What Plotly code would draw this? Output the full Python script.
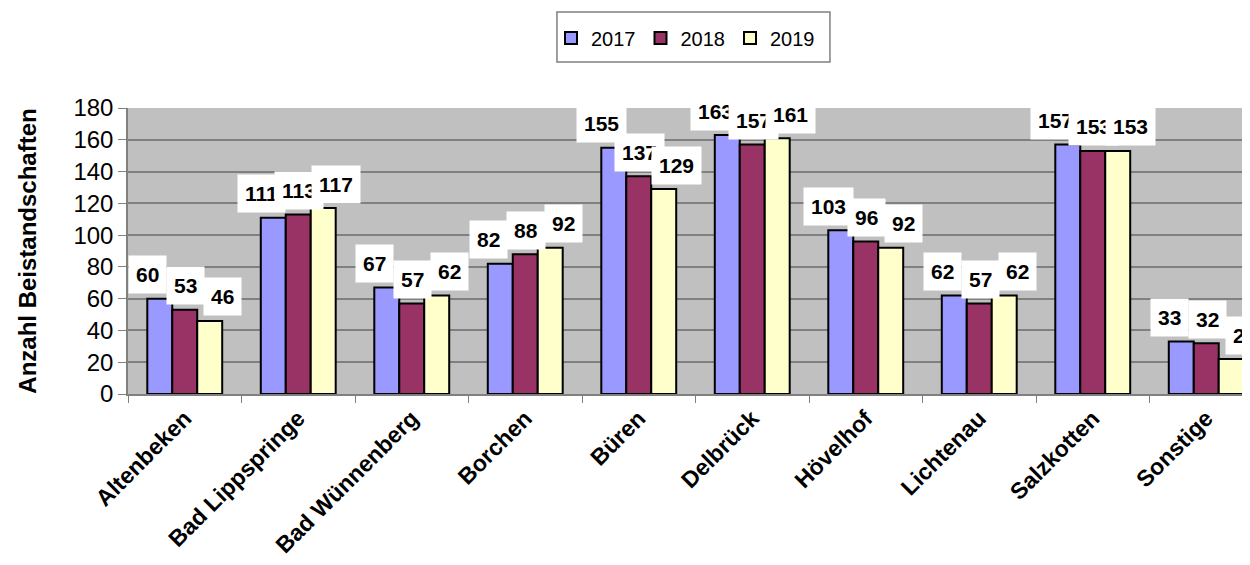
import plotly.graph_objects as go

categories = ["Altenbeken", "Bad Lippspringe", "Bad Wünnenberg", "Borchen", "Büren",
              "Delbrück", "Hövelhof", "Lichtenau", "Salzkotten", "Sonstige"]
series_names = ["2017", "2018", "2019"]
values_2017 = [60, 111, 67, 82, 155, 163, 103, 62, 157, 33]
values_2018 = [53, 113, 57, 88, 137, 157, 96, 57, 153, 32]
values_2019 = [46, 117, 62, 92, 129, 161, 92, 62, 153, 22]
y_ticks = [0, 20, 40, 60, 80, 100, 120, 140, 160, 180]

all_values = [values_2017, values_2018, values_2019]
colors = ["#9999FF", "#993366", "#FFFFCC"]
label_xshift = [-37, 1, 38]
label_yshift = 24

FONT = "Liberation Sans, Arial, sans-serif"

fig = go.Figure()
for name, vals, col in zip(series_names, all_values, colors):
    fig.add_trace(go.Bar(
        x=categories, y=vals, name=name,
        marker=dict(color=col, line=dict(color="black", width=2)),
    ))

annotations = []
for s, vals in enumerate(all_values):
    for c, v in zip(categories, vals):
        annotations.append(dict(
            x=c, y=v, xref="x", yref="y", text=f"<b>{v}</b>", showarrow=False,
            xshift=label_xshift[s], yshift=label_yshift, yanchor="middle",
            bgcolor="white", borderpad=7,
            font=dict(family=FONT, size=21, color="black"),
        ))

fig.update_layout(
    width=1250, height=565,
    margin=dict(l=120, r=0, t=100, b=179, autoexpand=False),
    paper_bgcolor="white", plot_bgcolor="#C0C0C0",
    barmode="group", bargap=0.34, bargroupgap=0,
    font=dict(family=FONT, color="black"),
    showlegend=True,
    legend=dict(
        orientation="h", x=0.542, y=0.947, xref="container", yref="container",
        xanchor="center", yanchor="middle",
        borderwidth=0, bgcolor="rgba(0,0,0,0)",
        font=dict(family=FONT, size=20, color="black"),
        itemwidth=30, traceorder="normal",
    ),
    annotations=annotations,
    shapes=[dict(type="rect", xref="paper", yref="paper",
                 x0=0.3796, x1=0.6212, y0=1.1608, y1=1.3357,
                 line=dict(color="#808080", width=1.5), fillcolor="white", layer="below")],
)

fig.update_xaxes(
    range=[-0.5, 9.456], tickangle=-45, automargin=False,
    tickfont=dict(family=FONT, size=23, color="black", weight="bold"),
    ticks="outside", tickson="boundaries", ticklen=7, tickcolor="#808080",
    showline=True, linecolor="#808080", linewidth=1.5, showgrid=False,
)
fig.update_yaxes(
    range=[0, 180], tickvals=y_ticks, automargin=False,
    tickfont=dict(family=FONT, size=24, color="black"),
    ticks="outside", ticklen=8, tickcolor="#808080",
    showline=True, linecolor="#808080", linewidth=1.5,
    showgrid=True, gridcolor="#808080", gridwidth=1.5,
    title=dict(text="<b>Anzahl Beistandschaften</b>", font=dict(family=FONT, size=24, color="black"), standoff=30),
    zeroline=False,
)

fig.write_html("out.html")
